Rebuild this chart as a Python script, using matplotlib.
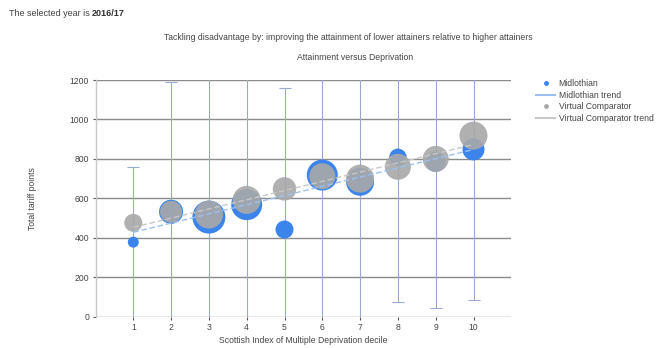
import numpy as np
import matplotlib
matplotlib.use("Agg")
import matplotlib.pyplot as plt
from matplotlib.lines import Line2D

plt.rcParams['font.family'] = ['Liberation Sans', 'DejaVu Sans']

# SIMD deciles
deciles = [1, 2, 3, 4, 5, 6, 7, 8, 9, 10]

# Average total tariff points
midlothian = [378, 532, 505, 568, 442, 718, 684, 808, 785, 848]
comparator = [476, 532, 518, 592, 648, 712, 700, 760, 800, 918]

# Cohort sizes (drive bubble area)
midlothian_pupils = [30, 145, 272, 240, 81, 240, 196, 76, 100, 121]
comparator_pupils = [81, 121, 196, 196, 137, 169, 196, 169, 169, 196]

# Confidence interval for Midlothian
ci_lower = [-200, -150, -300, -250, -250, -200, -200, 73, 45, 85]
ci_upper = [760, 1190, 1450, 1450, 1160, 1450, 1450, 1500, 1550, 1700]

yticks = [0, 200, 400, 600, 800, 1000, 1200]

BLUE = '#3a84ec'
GREY = '#a9a9a9'
TXT = '#444444'
FS = 6.2

fig = plt.figure(figsize=(6.58, 3.48), dpi=100)
ax = fig.add_axes([95.5 / 658, (348 - 316.7) / 348, (511.3 - 95.5) / 658, (316.7 - 80) / 348])

x = np.array(deciles, dtype=float)
mid = np.array(midlothian, dtype=float)
comp = np.array(comparator, dtype=float)

# Horizontal gridlines
for yv in yticks:
    ax.axhline(yv, color='#8a8a8a', lw=1.0, zorder=1)

# Confidence interval bars
lo = np.array(ci_lower, dtype=float)
hi = np.array(ci_upper, dtype=float)
ax.errorbar(x, mid, yerr=[mid - lo, hi - mid], fmt='none', ecolor='#9aa8d2',
            elinewidth=0.8, capsize=4.5, capthick=0.8, zorder=2)

def px_to_s(n):
    # bubble radius in pixels = sqrt(pupils)
    d_pt = 2 * np.sqrt(np.array(n, dtype=float)) * 72 / fig.dpi
    return d_pt ** 2

ax.scatter(x, mid, s=px_to_s(midlothian_pupils), color=BLUE, edgecolors='none', zorder=3)
ax.scatter(x, comp, s=px_to_s(comparator_pupils), color=GREY, alpha=0.92,
           edgecolors='none', zorder=4)

# Pupil-weighted linear trends
pm = np.polyfit(x, mid, 1, w=np.sqrt(midlothian_pupils))
pc = np.polyfit(x, comp, 1, w=np.sqrt(comparator_pupils))
ax.plot(x, np.polyval(pm, x), color='#9cc0f2', lw=1.0, ls=(0, (4, 2)), zorder=5)
ax.plot(x, np.polyval(pc, x), color='#c8c8c8', lw=1.0, ls=(0, (4, 2)), zorder=5)

ax.set_xlim(0, 11)
ax.set_ylim(0, 1200)
ax.set_xticks(deciles)
ax.set_xticklabels([str(d) for d in deciles])
ax.set_yticks(yticks)
ax.set_yticklabels([str(v) for v in yticks])
ax.tick_params(axis='both', labelsize=FS, colors='#555555', length=2.5, width=0.8,
               labelcolor=TXT, pad=2)
for s in ['top', 'right', 'bottom']:
    ax.spines[s].set_visible(False)
ax.spines['left'].set_color('#c8c8c8')
ax.spines['left'].set_linewidth(1.0)

ax.set_ylabel('Total tariff points', fontsize=FS, color=TXT, labelpad=24)
ax.set_xlabel('Scottish Index of Multiple Deprivation decile', fontsize=FS,
              color=TXT, labelpad=3)

# Header line: plain text followed by the year in bold
t1 = fig.text(9 / 658, 1 - 14 / 348, 'The selected year is ', fontsize=FS + 0.3,
              color=TXT, va='center', ha='left')
fig.canvas.draw()
bb = t1.get_window_extent(renderer=fig.canvas.get_renderer())
fig.text(bb.x1 / fig.bbox.width, 1 - 14 / 348, '2016/17', fontsize=FS + 0.3,
         color='#333333', va='center', ha='left', fontweight='bold')

fig.text(348 / 658, 1 - 37 / 348,
         'Tackling disadvantage by: improving the attainment of lower attainers relative to higher attainers',
         fontsize=FS, color=TXT, ha='center', va='center')
fig.text(355 / 658, 1 - 58 / 348, 'Attainment versus Deprivation', fontsize=FS,
         color=TXT, ha='center', va='center')

handles = [
    Line2D([], [], marker='o', ls='none', color=BLUE, markersize=2.5),
    Line2D([], [], color='#9cc0f2', lw=1.5),
    Line2D([], [], marker='o', ls='none', color=GREY, markersize=2.5),
    Line2D([], [], color='#c8c8c8', lw=1.5),
]
labels = ['Midlothian', 'Midlothian trend', 'Virtual Comparator', 'Virtual Comparator trend']
fig.legend(handles, labels, loc='upper left', bbox_to_anchor=(532 / 658, 1 - 75 / 348),
           frameon=False, fontsize=FS, handlelength=2.2, handletextpad=0.4,
           labelspacing=0.3, borderpad=0, labelcolor=TXT)

fig.savefig('out.png', dpi=100)
